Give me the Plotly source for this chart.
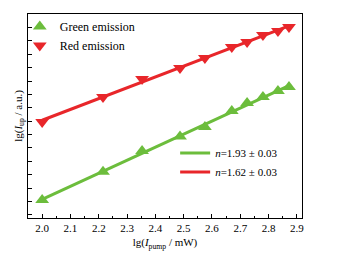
import numpy as np
import plotly.graph_objects as go

x_pump = [2.0, 2.215, 2.353, 2.487, 2.575, 2.67, 2.724, 2.78, 2.833, 2.872]
green_y = [3.224, 3.646, 3.955, 4.172, 4.313, 4.552, 4.672, 4.761, 4.851, 4.910]
red_y = [4.388, 4.761, 5.030, 5.194, 5.343, 5.507, 5.582, 5.687, 5.746, 5.806]
green_label = "<i>n</i>=1.93 ± 0.03"
red_label = "<i>n</i>=1.62 ± 0.03"

GREEN = "#6cbd3c"
RED = "#e8262a"
FONT = "Liberation Serif, Times New Roman, serif"

xa = np.array(x_pump)
gfit = np.polyval(np.polyfit(xa, green_y, 1), xa)
rfit = np.polyval(np.polyfit(xa, red_y, 1), xa)

fig = go.Figure()
fig.add_trace(go.Scatter(x=x_pump, y=list(gfit), mode="lines", line=dict(color=GREEN, width=3),
                         name=green_label, legend="legend2"))
fig.add_trace(go.Scatter(x=x_pump, y=list(rfit), mode="lines", line=dict(color=RED, width=3),
                         name=red_label, legend="legend2"))
fig.add_trace(go.Scatter(x=x_pump, y=green_y, mode="markers",
                         marker=dict(symbol="triangle-up", size=12, color=GREEN),
                         name="Green emission", legend="legend"))
fig.add_trace(go.Scatter(x=x_pump, y=red_y, mode="markers",
                         marker=dict(symbol="triangle-down", size=12, color=RED),
                         name="Red emission", legend="legend"))

fig.update_layout(
    width=344, height=253,
    margin=dict(l=28, r=42, t=14, b=35),
    paper_bgcolor="white", plot_bgcolor="white",
    font=dict(family=FONT, size=10, color="black"),
    legend=dict(x=-0.03, y=1.01, xanchor="left", yanchor="top", bgcolor="rgba(0,0,0,0)",
                font=dict(size=12, family=FONT), itemwidth=30),
    legend2=dict(x=0.537, y=0.39, xanchor="left", yanchor="top", bgcolor="rgba(0,0,0,0)",
                 font=dict(size=11, family=FONT), itemwidth=30),
    xaxis=dict(range=[1.95, 2.918], dtick=0.1, tick0=2.0, tickformat=".1f", automargin=False,
               ticks="inside", ticklen=4, tickcolor="black", showline=True, linecolor="black",
               linewidth=1, mirror=True, showgrid=False, zeroline=False,
               minor=dict(dtick=0.05, ticks="inside", ticklen=2, tickcolor="black"),
               title=dict(text="lg(<i>I</i><sub>pump</sub> / mW)", font=dict(size=11), standoff=5),
               tickfont=dict(size=11)),
    yaxis=dict(range=[2.955, 6.0], dtick=0.2, tick0=3.0, showticklabels=False, automargin=False,
               ticks="inside", ticklen=4, tickcolor="black", showline=True, linecolor="black",
               linewidth=1, mirror=True, showgrid=False, zeroline=False,
               title=dict(text="lg(<i>I</i><sub>up</sub> / a.u.)", font=dict(size=11), standoff=2)),
)

fig.write_html("out.html", config={"displayModeBar": False},
               post_script="document.body.style.margin='0';document.body.style.overflow='hidden';")
